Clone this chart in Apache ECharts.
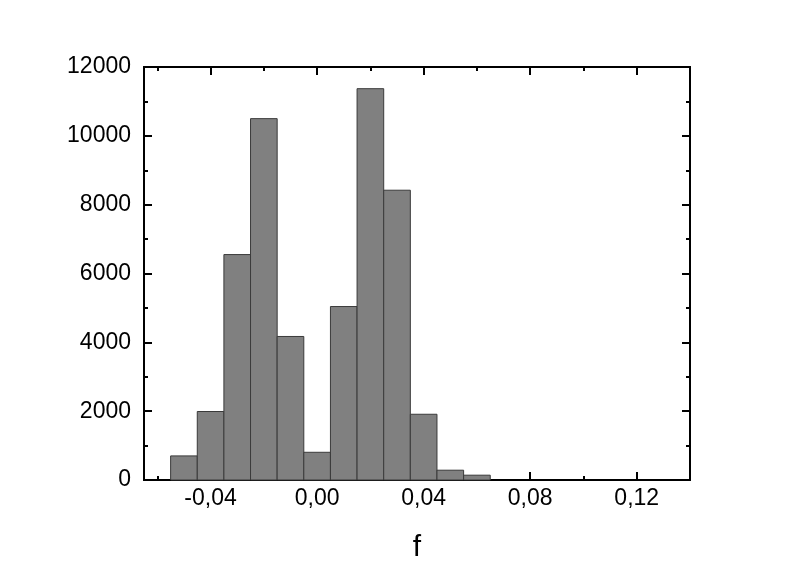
<!DOCTYPE html>
<html>
<head>
<meta charset="utf-8">
<script src="https://cdn.jsdelivr.net/npm/echarts@6/dist/echarts.min.js"></script>
<style>html,body{margin:0;padding:0;background:#fff;}#c{width:801px;height:576px;}</style>
</head>
<body>
<div id="c"></div>
<script>
// Histogram data
const binCenters = [-0.05, -0.04, -0.03, -0.02, -0.01, 0.00, 0.01, 0.02, 0.03, 0.04, 0.05, 0.06];
const counts = [700, 1990, 6550, 10500, 4170, 805, 5040, 11370, 8420, 1910, 285, 140];
const binWidth = 0.01;
const xMajorTicks = [-0.04, 0.00, 0.04, 0.08, 0.12];
const xMinorTicks = [-0.06, -0.02, 0.02, 0.06, 0.10];
const xMin = -0.065, xMax = 0.14;
const yMin = 0, yMax = 12000, yStep = 2000;
const xTitle = 'f';

const chart = echarts.init(document.getElementById('c'), null, {renderer: 'canvas'});
const font = 'Liberation Sans';
const fmt = v => { const s = Math.abs(v) < 1e-9 ? '0.00' : v.toFixed(2); return s.replace('.', ','); };

function xAx(pos, ticks, len, label, name) {
  return {
    type: 'value', position: pos, min: xMin, max: xMax,
    name: name || '', nameLocation: 'middle', nameGap: 53,
    nameTextStyle: {fontFamily: font, fontSize: 30, color: '#000'},
    axisLine: {show: true, onZero: false, lineStyle: {color: '#000', width: 2}},
    axisTick: {show: true, inside: true, length: len, customValues: ticks, lineStyle: {color: '#000', width: 2}},
    axisLabel: label ? {show: true, customValues: ticks, formatter: fmt, fontFamily: font, fontSize: 23, color: '#000', margin: 7}
                     : {show: false, customValues: ticks},
    splitLine: {show: false}
  };
}
function yAx(pos, label) {
  return {
    type: 'value', position: pos, min: yMin, max: yMax, interval: yStep,
    axisLine: {show: true, onZero: false, lineStyle: {color: '#000', width: 2}},
    axisTick: {show: true, inside: true, length: 8, lineStyle: {color: '#000', width: 2}},
    minorTick: {show: true, splitNumber: 2, length: 4, lineStyle: {color: '#000', width: 2}},
    axisLabel: {show: label, formatter: v => String(Math.round(v)), fontFamily: font, fontSize: 23, color: '#000', margin: 13},
    splitLine: {show: false}, minorSplitLine: {show: false}
  };
}

chart.setOption({
  animation: false,
  backgroundColor: '#fff',
  grid: {left: 144, right: 111, top: 67, bottom: 96, containLabel: false},
  xAxis: [
    xAx('bottom', xMajorTicks, 8, true, xTitle),
    xAx('bottom', xMinorTicks, 4, false),
    xAx('top', xMajorTicks, 8, false),
    xAx('top', xMinorTicks, 4, false)
  ],
  yAxis: [yAx('left', true), yAx('right', false)],
  series: [{
    type: 'custom',
    xAxisIndex: 0, yAxisIndex: 0,
    encode: {x: 0, y: 1},
    data: binCenters.map((c, i) => [c, counts[i]]),
    renderItem: function (params, api) {
      const x = api.value(0), y = api.value(1);
      const p0 = api.coord([x - binWidth / 2, y]);
      const p1 = api.coord([x + binWidth / 2, 0]);
      return {
        type: 'rect',
        shape: {x: p0[0], y: p0[1], width: p1[0] - p0[0], height: p1[1] - p0[1]},
        style: {fill: '#808080', stroke: '#3a3a3a', lineWidth: 1}
      };
    }
  }]
});
</script>
</body>
</html>
